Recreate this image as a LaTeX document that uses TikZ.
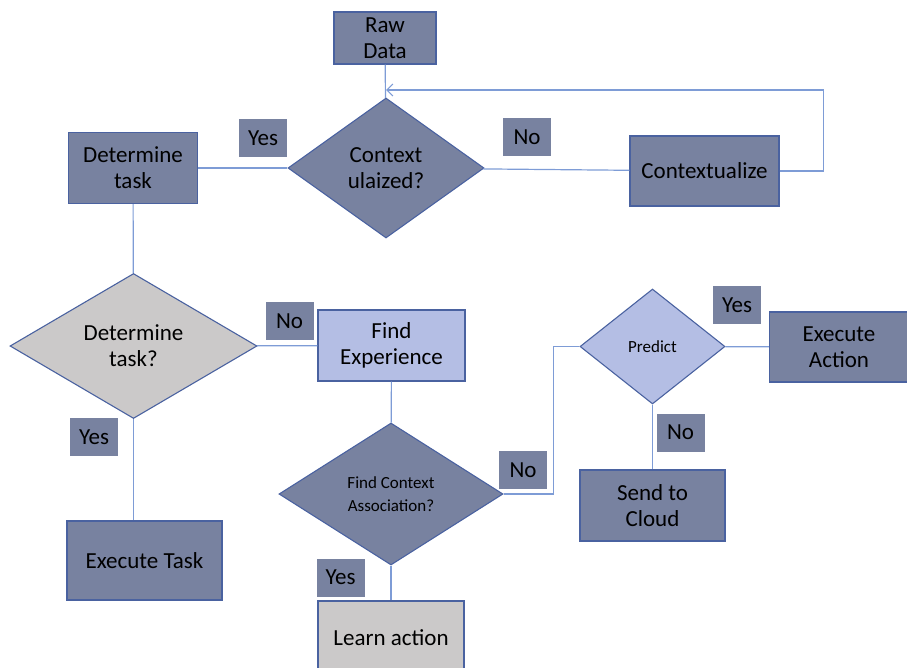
\documentclass[tikz,border=0pt]{standalone}
\usepackage{fontspec}
\setmainfont{Carlito}
\definecolor{SlateFill}{HTML}{7882A0}
\definecolor{PaleBlue}{HTML}{B4BEE4}
\definecolor{StoneGray}{HTML}{CBC9C9}
\definecolor{EdgeBlue}{HTML}{4A62A0}
\definecolor{LinkBlue}{HTML}{7E9CD6}
\usepackage{tikz}
\usetikzlibrary{arrows.meta,positioning,shapes.geometric}
\newcommand{\bigtxt}{\fontsize{23}{26}\selectfont}
\newcommand{\smalltxt}{\fontsize{17}{23}\selectfont}

\begin{document}
\begin{tikzpicture}[x=1pt,y=-1pt,
        procbox/.style={draw=EdgeBlue,line width=1.1pt,fill=SlateFill,
                     align=center,inner sep=0pt,font=\bigtxt},
        decision/.style={diamond,draw=EdgeBlue,line width=1.1pt,fill=SlateFill,
                     align=center,inner sep=0pt,aspect=1.4,font=\bigtxt},
        answer/.style={fill=SlateFill,minimum width=48pt,minimum height=38pt,
                     inner sep=0pt,font=\bigtxt},
        link/.style={draw=LinkBlue,line width=1.2pt}]
        \path[use as bounding box] (0,0) rectangle (907,667);
        \clip (0,0) rectangle (907,667);
        % top row
        \node[procbox,minimum width=102pt,minimum height=52pt] (raw) at (385,38) {Raw\\Data};
        \node[decision,minimum width=196pt,minimum height=140pt] (ctxq) at (386,168)
              {Context\\ulaized?};
        \node[procbox,minimum width=149pt,minimum height=70pt] (ctxz) at (704.5,171)
              {Contextualize};
        \node[procbox,minimum width=129pt,minimum height=71pt] (dtask) at (133,168)
              {Determine\\task};
        \node[answer] (yes1) at (263,138) {Yes};
        \node[answer] (no1) at (527,137) {No};
        \coordinate (loopin) at (386,90);
        % middle row
        \node[decision,fill=StoneGray,minimum width=247pt,minimum height=145pt] (dtaskq)
              at (133.5,346) {Determine\\task?};
        \node[procbox,fill=PaleBlue,minimum width=147pt,minimum height=71pt] (findx)
              at (391.5,345.5) {Find\\Experience};
        \node[decision,fill=PaleBlue,minimum width=145pt,minimum height=115pt,font=\smalltxt]
              (pred) at (652.5,346.5) {Predict};
        \node[procbox,minimum width=139pt,minimum height=70pt] (xaction) at (839,347)
              {Execute\\Action};
        \node[answer] (no2) at (289.5,321) {No};
        \node[answer] (yes2) at (737,305) {Yes};
        \node[answer] (yes3) at (94,437) {Yes};
        % bottom row
        \node[decision,minimum width=224pt,minimum height=142pt,font=\smalltxt] (assocq)
              at (391,494) {Find Context\\Association?};
        \node[procbox,minimum width=155pt,minimum height=79pt] (xtask) at (144.5,560.5)
              {Execute Task};
        \node[procbox,minimum width=145pt,minimum height=71pt] (cloud)
              at (652.5,505.5) {Send to\\Cloud};
        \node[procbox,fill=StoneGray,minimum width=146pt,minimum height=90pt,
              text depth=0pt] (learn) at (391,646) {\raisebox{16pt}{Learn action}};
        \node[answer] (no3) at (523,470) {No};
        \node[answer] (no4) at (680.5,432.5) {No};
        \node[answer] (yes4) at (340.5,577.5) {Yes};
        % connectors
        \draw[link] (raw) -- (ctxq);
        \draw[link] (ctxq) -- (ctxz);
        \draw[link,-{Straight Barb[length=6pt,width=12pt]}] (ctxz.east) -- ++(44,0) |- (loopin);
        \draw[link] (dtask) -- (ctxq);
        \draw[link] (dtask) -- (dtaskq);
        \draw[link] (dtaskq) -- (findx);
        \draw[link] (dtaskq.south) -- (dtaskq.south |- xtask.north);
        \draw[link] (findx) -- (assocq);
        \draw[link] (assocq.east) -- ++(50,0) |- (pred.west);
        \draw[link] (pred) -- (xaction);
        \draw[link] (pred) -- (cloud);
        \draw[link] (assocq) -- (learn);
      \end{tikzpicture}
\end{document}
